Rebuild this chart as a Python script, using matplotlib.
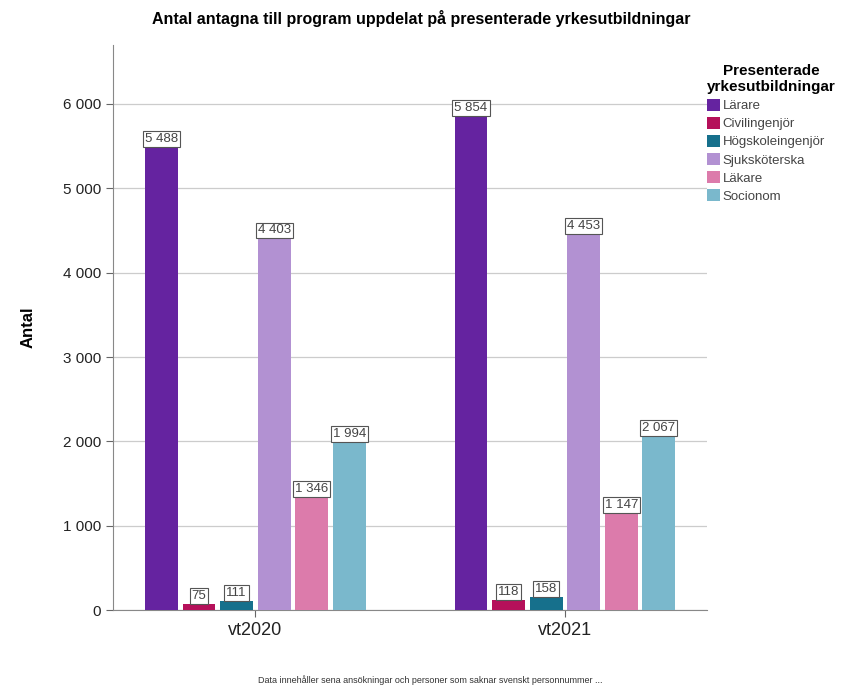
import matplotlib.pyplot as plt
import numpy as np

# === DATA ===
terms = ["vt2020", "vt2021"]
programs = ["Lärare", "Civilingenjör", "Högskoleingenjör", "Sjuksköterska", "Läkare", "Socionom"]
values = {
    "Lärare": [5488, 5854],
    "Civilingenjör": [75, 118],
    "Högskoleingenjör": [111, 158],
    "Sjuksköterska": [4403, 4453],
    "Läkare": [1346, 1147],
    "Socionom": [1994, 2067],
}
colors = ["#6523a0", "#b5105a", "#16708c", "#b291d2", "#dc7bab", "#7ab8cc"]
yticks = [0, 1000, 2000, 3000, 4000, 5000, 6000]

plt.rcParams['font.family'] = ['Liberation Sans', 'DejaVu Sans']


def fmt(v):
    return f"{v:,}".replace(",", " ")


fig = plt.figure(figsize=(8.43, 6.88), dpi=100)
ax = fig.add_axes([0.134, 0.113, 0.705, 0.822])

x = np.arange(len(terms))
step = 0.1213
width = 0.106
for i, (prog, col) in enumerate(zip(programs, colors)):
    pos = x + (i - 2.5) * step
    ax.bar(pos, values[prog], width=width, color=col, label=prog, zorder=3)
    for xp, v in zip(pos, values[prog]):
        ax.text(xp, v + 25, fmt(v), ha='center', va='bottom', fontsize=9.5,
                color='#444444', zorder=4,
                bbox=dict(boxstyle='square,pad=0.15', fc='white', ec='#555555', lw=0.8))

ax.set_xlim(-0.46, 1.46)
ax.set_ylim(0, 6700)
ax.set_yticks(yticks)
ax.set_yticklabels([fmt(t) for t in yticks], fontsize=11)
ax.set_xticks(x)
ax.set_xticklabels(terms, fontsize=13)
ax.yaxis.grid(True, color='#cccccc', lw=0.9, zorder=0)
ax.set_axisbelow(True)
for s in ['top', 'right']:
    ax.spines[s].set_visible(False)
for s in ['left', 'bottom']:
    ax.spines[s].set_color('#888888')
ax.tick_params(axis='both', colors='#666666', length=5)
for lbl in ax.get_yticklabels() + ax.get_xticklabels():
    lbl.set_color('#222222')
ax.set_ylabel("Antal", fontsize=12, fontweight='bold', labelpad=20)

fig.suptitle("Antal antagna till program uppdelat på presenterade yrkesutbildningar",
             x=0.5, y=0.985, fontsize=11.5, fontweight='bold')

leg = ax.legend(loc='upper left', bbox_to_anchor=(0.99, 0.975), frameon=False,
                title="Presenterade\nyrkesutbildningar", fontsize=9.5,
                handlelength=1.0, handleheight=1.0, handletextpad=0.2,
                labelspacing=0.35, borderaxespad=0, alignment='left')
leg.get_title().set_fontweight('bold')
leg.get_title().set_fontsize(11)
leg.get_title().set_multialignment('center')
for t in leg.get_texts():
    t.set_color('#444444')

fig.text(0.51, 0.005, "Data innehåller sena ansökningar och personer som saknar svenskt personnummer ...",
         ha='center', va='bottom', fontsize=6.5, color='#333333')

plt.savefig("out.png", dpi=100)
